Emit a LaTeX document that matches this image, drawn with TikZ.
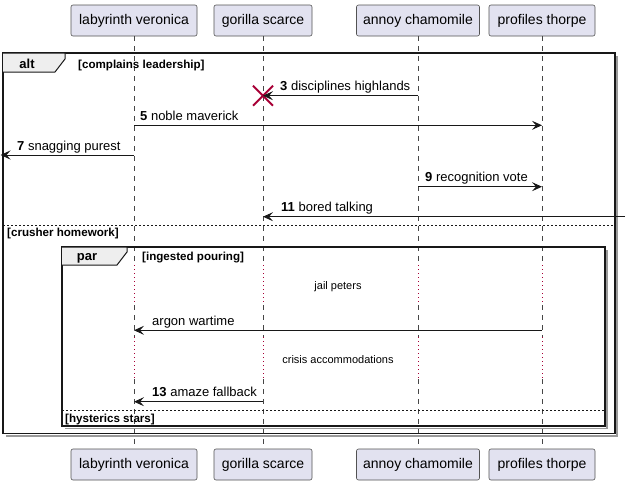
\documentclass[tikz,border=0pt]{standalone}
\usepackage{fontspec}
\setmainfont{Liberation Sans}
\usetikzlibrary{arrows.meta,shapes.misc}
\definecolor{partfill}{HTML}{E2E2F0}
\definecolor{lineblk}{HTML}{181818}
\definecolor{delayred}{HTML}{A80036}
\definecolor{tabfill}{HTML}{EEEEEE}
\definecolor{shadowc}{HTML}{9A9A9A}
\begin{document}
\begin{tikzpicture}[x=1pt,y=-1pt,
  part/.style={draw=lineblk!75, fill=partfill, rounded corners=2pt, line width=0.6pt,
    minimum height=31pt, inner sep=0pt, font=\fontsize{14}{16}\selectfont},
  life/.style={draw=lineblk!80, line width=0.5pt, dash pattern=on 5pt off 5pt},
  delayline/.style={draw=delayred, line width=0.8pt, dash pattern=on 1pt off 3pt},
  msg/.style={draw=lineblk, line width=0.9pt, -{Stealth[length=10pt,width=9pt,inset=4pt]}},
  msgtext/.style={anchor=base west, inner sep=0pt, font=\fontsize{13}{15}\selectfont},
  framebox/.style={draw=lineblk, line width=1.5pt},
  frameshadow/.style={draw=shadowc, line width=1.5pt},
  tabbox/.style={draw=lineblk, line width=1pt, fill=tabfill},
  tabtext/.style={inner sep=0pt, anchor=base, font=\fontsize{13}{15}\selectfont\bfseries},
  guard/.style={anchor=base west, inner sep=0pt, font=\fontsize{11.6}{13}\selectfont\bfseries},
  elseline/.style={draw=lineblk, line width=0.8pt, dash pattern=on 2pt off 2pt},
  delaytext/.style={inner sep=0pt, font=\fontsize{11}{13}\selectfont},
  destroy/.style={cross out, draw=delayred, line width=2pt, minimum size=18pt, inner sep=0pt}
]
\useasboundingbox (0,0) rectangle (630,485);

% participants
\node[part, minimum width=126pt] (lvT) at (134,20.5) {labyrinth veronica};
\node[part, minimum width=98pt]  (gsT) at (263,20.5) {gorilla scarce};
\node[part, minimum width=123pt] (acT) at (418,20.5) {annoy chamomile};
\node[part, minimum width=106pt] (ptT) at (542,20.5) {profiles thorpe};
\node[part, minimum width=126pt] (lvB) at (134,464.5) {labyrinth veronica};
\node[part, minimum width=98pt]  (gsB) at (263,464.5) {gorilla scarce};
\node[part, minimum width=123pt] (acB) at (418,464.5) {annoy chamomile};
\node[part, minimum width=106pt] (ptB) at (542,464.5) {profiles thorpe};

% lifelines
\foreach \p in {lv,gs,ac,pt}{
  \draw[life] (\p T.south) -- (\p T.south |- 0,265)
              (\p T.south |- 0,305) -- (\p T.south |- 0,337)
              (\p T.south |- 0,379) -- (\p B.north);
  \draw[delayline] (\p T.south |- 0,265) -- (\p T.south |- 0,305)
                   (\p T.south |- 0,337) -- (\p T.south |- 0,379);
}

% alt frame
\draw[frameshadow] (617,56) -- (617,436) -- (6,436);
\draw[framebox] (3,53) rectangle (615,433.5);
\draw[tabbox] (3,53) -- (65,53) -- (65,59) -- (55,72) -- (3,72);
\node[tabtext] (altlbl) at (27,68.5) {alt};
\node[guard] (g1) at (78,68.5) {[complains leadership]};

% messages
\node[destroy] (x3) at (gsT.south |- 0,95.7) {};
\draw[msg] (acT.south |- 0,95.7) -- (x3.center);
\node[msgtext] (t3) at (280,90.7) {\textbf{3} disciplines highlands};

\draw[msg] (lvT.south |- 0,125.3) -- (ptT.south |- 0,125.3);
\node[msgtext] (t5) at (140,120.5) {\textbf{5} noble maverick};

\coordinate (leftEnd) at (0.5,155);
\draw[msg] (lvT.south |- 0,155) -- (leftEnd);
\node[msgtext] (t7) at (17,150.2) {\textbf{7} snagging purest};

\draw[msg] (acT.south |- 0,186.7) -- (ptT.south |- 0,186.7);
\node[msgtext] (t9) at (425,181.8) {\textbf{9} recognition vote};

\coordinate (rightEnd) at (625,216.7);
\draw[msg] (rightEnd) -- (gsT.south |- 0,216.7);
\node[msgtext] (t11) at (281,211.8) {\textbf{11} bored talking};

% else of alt
\draw[elseline] (3,225) -- (615,225);
\node[guard] (g2) at (7,236) {[crusher homework]};

% par frame
\draw[frameshadow] (607,250) -- (607,428.5) -- (65,428.5);
\draw[framebox] (62,247) rectangle (605,426);
\draw[tabbox] (62,247) -- (127,247) -- (127,252) -- (117,265) -- (62,265);
\node[tabtext] (parlbl) at (87,260) {par};
\node[guard] (g3) at (142,260) {[ingested pouring]};

\node[delaytext] (d1) at (338,287) {jail peters};

\draw[msg] (ptT.south |- 0,330.3) -- (lvT.south |- 0,330.3);
\node[msgtext] (targ) at (152,325.5) {argon wartime};

\node[delaytext] (d2) at (338,359.5) {crisis accommodations};

\draw[msg] (gsT.south |- 0,401.7) -- (lvT.south |- 0,401.7);
\node[msgtext] (t13) at (152,396.8) {\textbf{13} amaze fallback};

\draw[elseline] (62,410.7) -- (605,410.7);
\node[guard] (g4) at (65,422) {[hysterics stars]};
\end{tikzpicture}
\end{document}
